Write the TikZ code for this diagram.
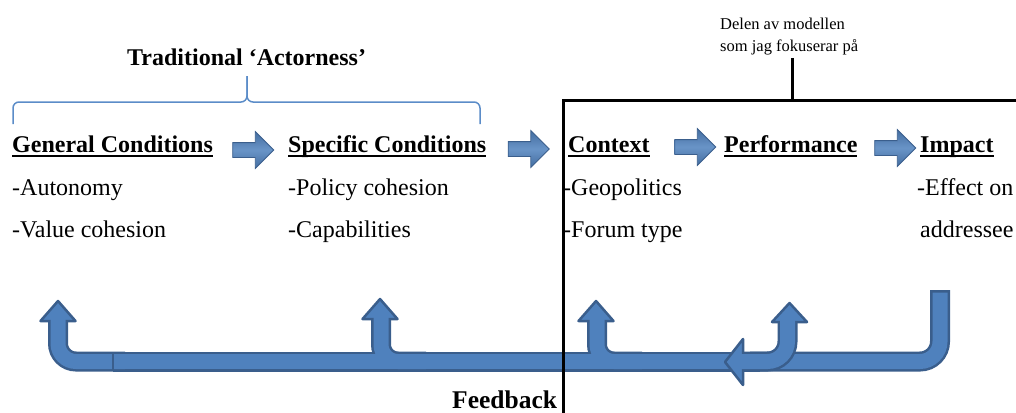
\documentclass[tikz,border=0pt]{standalone}
\usepackage{fontspec}
\setmainfont{Liberation Serif}
\usetikzlibrary{shapes.arrows}

\definecolor{fbblue}{HTML}{4F81BD}
\definecolor{fbdark}{HTML}{3A5E8C}
\definecolor{bracecol}{HTML}{5B8CC8}

% underlined heading text
\newcommand{\hdline}[1]{\setbox0=\hbox{#1}\rlap{\rule[-4.5pt]{\wd0}{1.8pt}}\box0}

\tikzset{
  heading/.style={anchor=base west, inner sep=0, font=\fontsize{24}{28}\selectfont\bfseries},
  item/.style={anchor=base west, inner sep=0, font=\fontsize{24}{28}\selectfont},
  focus/.style={anchor=base west, inner sep=0, font=\fontsize{16.5}{20}\selectfont},
  flowarrow/.style={single arrow, draw=fbdark, line width=0.8, top color=fbblue!85!black,
    bottom color=fbblue!85!black, middle color=fbblue!85!white, minimum height=41,
    inner sep=7, single arrow head extend=11},
  fbout/.style={draw=fbdark, line width=20},
  fbin/.style={draw=fbblue, line width=15},
  fbhead/.style={fill=fbblue, draw=fbdark, line width=2.5, line join=round},
  boxline/.style={draw=black, line width=3}
}

\begin{document}
\begin{tikzpicture}[x=1pt, y=-1pt]
  \useasboundingbox (0,0) rectangle (1016,412);

  % Labels
  \node[heading] (title) at (127,65) {Traditional ‘Actorness’};
  \node[focus] (focus1) at (720,30) {Delen av modellen};
  \node[focus] (focus2) at (720,52) {som jag fokuserar på};

  % Headings
  \node[heading] (gen) at (12,152) {\hdline{General Conditions}};
  \node[heading] (spec) at (288,152) {\hdline{Specific Conditions}};
  \node[heading] (ctx) at (568,152) {\hdline{Context}};
  \node[heading] (perf) at (724,152) {\hdline{Performance}};
  \node[heading] (imp) at (920,152) {\hdline{Impact}};

  % Items
  \node[item] (auto) at (12,195) {-Autonomy};
  \node[item] (value) at (12,237) {-Value cohesion};
  \node[item] (policy) at (288,195) {-Policy cohesion};
  \node[item] (capab) at (288,237) {-Capabilities};
  \node[item] (geo) at (563,195) {-Geopolitics};
  \node[item] (forum) at (563,237) {-Forum type};
  \node[item] (effect) at (917,195) {-Effect on};
  \node[item] (addr) at (920,237) {addressee};

  % Arrows
  \node[flowarrow] (arrgen) at (249.5,150) {};
  \node[flowarrow] (arrspec) at (525,149) {};
  \node[flowarrow] (arrctx) at (691.5,147) {};
  \node[flowarrow] (arrperf) at (891.5,148) {};

  % Brace
  \draw[bracecol, line width=1.5, rounded corners=6] (13,124) |- (247,102) -- (247,76);
  \draw[bracecol, line width=1.5, rounded corners=6] (247,76) -- (247,102) -| (480,124);

  % Feedback
  \foreach \x in {381,597}
    \draw[fbout, rounded corners=17] (\x+45,361.5) -- (\x,361.5) -- (\x,319);
  \draw[fbout] (113,361.5) -- (760,361.5);
  \draw[fbout, rounded corners=18] (125,361.5) -- (58,361.5) -- (58,321);
  \foreach \x/\b in {58/321,380/319,596/321}
    \draw[fbhead] (\x-17.5,\b) -- (\x,\b-20) -- (\x+17.5,\b) -- cycle;
  \foreach \x in {381,597}
    \draw[fbin, rounded corners=17] (\x+45,361.5) -- (\x,361.5) -- (\x,316);
  \draw[fbin] (113,361.5) -- (760,361.5);
  \draw[fbin, rounded corners=18] (125,361.5) -- (58,361.5) -- (58,318);
  \draw[fbdark, line width=2] (113,352.5) -- (113,370.5);

  \draw[fbout, rounded corners=20] (940,290) -- (940,361.5) -- (743,361.5);
  \draw[fbhead] (743,339) -- (725,362) -- (743,385) -- cycle;
  \draw[fbin, rounded corners=20] (940,292.5) -- (940,361.5) -- (740,361.5);

  \draw[fbout, rounded corners=20] (750,361.5) -- (787.5,361.5) -- (787.5,322);
  \draw[fbhead] (772,322) -- (789.5,303) -- (807,322) -- cycle;
  \draw[fbin, rounded corners=20] (750,361.5) -- (787.5,361.5) -- (787.5,319);

  \node[heading, font=\fontsize{25.5}{30}\selectfont\bfseries] (fblabel) at (452,408) {Feedback};

  % Focus box
  \coordinate (boxleft) at (563,414);
  \coordinate (boxright) at (1018,100);
  \coordinate (stemtop) at (792,58);
  \draw[boxline] (boxleft) |- (boxright);
  \draw[boxline] (stemtop) -- (stemtop |- boxright);

\end{tikzpicture}
\end{document}
